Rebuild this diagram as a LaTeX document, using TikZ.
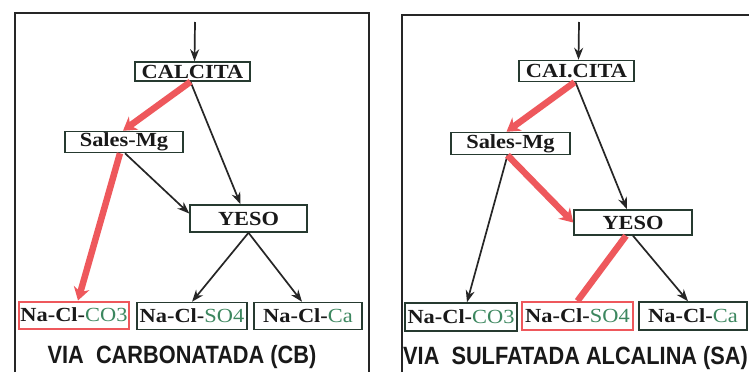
\documentclass[tikz,border=0pt]{standalone}
\usepackage{fontspec}
\setmainfont{Liberation Serif}
\newfontfamily\boxfont[FakeStretch=1.12]{Liberation Serif}
\newfontfamily\titlefont[FakeStretch=0.87]{Liberation Sans}
\usetikzlibrary{arrows.meta,calc}
\definecolor{hlred}{RGB}{238,88,92}
\definecolor{boxdark}{RGB}{38,58,48}
\definecolor{chemgreen}{RGB}{60,135,95}
\tikzset{
  bx/.style={draw=boxdark,line width=1.5pt,inner sep=0pt,fill=white,font=\boxfont\bfseries\fontsize{20}{20}\selectfont,text=black!90},
  hbx/.style={bx,draw=hlred,line width=2pt},
  blk/.style={draw=black!85,line width=1.7pt,-{Stealth[length=12pt,width=9pt]}},
  redarr/.style={draw=hlred,line width=6.5pt,-{Stealth[length=13pt,width=16pt]}},
  redln/.style={draw=hlred,line width=6.5pt},
  frame/.style={draw=black!85,line width=1.6pt},
  ttl/.style={font=\titlefont\bfseries\fontsize{25}{25}\selectfont,inner sep=0pt,text=black!90}
}
\newcommand{\chem}[1]{Na-Cl-\textcolor{chemgreen}{\mdseries #1}}
\begin{document}
\begin{tikzpicture}[x=1pt,y=-1pt]
\useasboundingbox (0,0) rectangle (749,372);
\fill[white] (0,0) rectangle (749,372);
% frames
\draw[frame] (15,372) -- (15,13) -- (369,13) -- (369,372);
\draw[frame] (402,372) -- (402,15) -- (749,15);

% ---------- left panel ----------
\coordinate (topA) at (195,22);
\node[bx,minimum width=115pt,minimum height=19pt] (calA) at (192.5,71.5) {CALCITA};
\node[bx,minimum width=118pt,minimum height=21pt] (salA) at (124,142) {Sales-Mg};
\node[bx,minimum width=117pt,minimum height=27pt] (yesA) at (248.5,218.5) {YESO};
\node[hbx,minimum width=110pt,minimum height=27pt] (co3A) at (74,315) {\chem{CO3}};
\node[bx,minimum width=110pt,minimum height=27pt] (so4A) at (192,316) {\chem{SO4}};
\node[bx,minimum width=108pt,minimum height=27pt] (caA) at (308,316) {\chem{Ca}};
\node[ttl] (tA) at (182,357) {VIA\ \ CARBONATADA (CB)};

\draw[blk] (topA) -- ([xshift=2pt]calA.north);
\draw[blk] ([xshift=-2pt]calA.south) -- ([xshift=-8pt]yesA.north);
\draw[blk] ([xshift=1pt]salA.south) -- ([yshift=5pt]yesA.west);
\draw[blk] (yesA.south) -- (so4A.north);
\draw[blk] (yesA.south) -- ([xshift=-6pt]caA.north);
\draw[redarr] ([xshift=-2pt]calA.south) -- ([xshift=-1pt]salA.north);
\draw[redarr] ([xshift=-4pt]salA.south) -- ([xshift=4pt]co3A.north);

% ---------- right panel ----------
\coordinate (topB) at (579,22);
\node[bx,minimum width=115pt,minimum height=21pt] (calB) at (576.5,71) {CAI.CITA};
\node[bx,minimum width=119pt,minimum height=22pt] (salB) at (510.5,143.5) {Sales-Mg};
\node[bx,minimum width=118pt,minimum height=25pt] (yesB) at (633,222.5) {YESO};
\node[bx,minimum width=112pt,minimum height=28pt] (co3B) at (461,317) {\chem{CO3}};
\node[hbx,minimum width=111pt,minimum height=28pt] (so4B) at (577.5,316) {\chem{SO4}};
\node[bx,minimum width=108pt,minimum height=28pt] (caB) at (693,316) {\chem{Ca}};
\node[ttl,anchor=west] (tB) at (403,358.5) {VIA\ \ SULFATADA ALCALINA (SA)};

\draw[blk] (topB) -- ([xshift=2pt]calB.north);
\draw[blk] ([xshift=-1pt]calB.south) -- ([xshift=-6pt]yesB.north);
\draw[blk] ([xshift=-3pt]salB.south) -- ([xshift=6pt]co3B.north);
\draw[blk] (yesB.south) -- ([xshift=-5pt]caB.north);
\draw[redarr] ([xshift=-2pt]calB.south) -- ([xshift=-4pt]salB.north);
\draw[redarr] ([xshift=-3pt]salB.south) -- (yesB.west);
\draw[redln] ([xshift=-7pt]yesB.south) -- (so4B.north);
\end{tikzpicture}
\end{document}
